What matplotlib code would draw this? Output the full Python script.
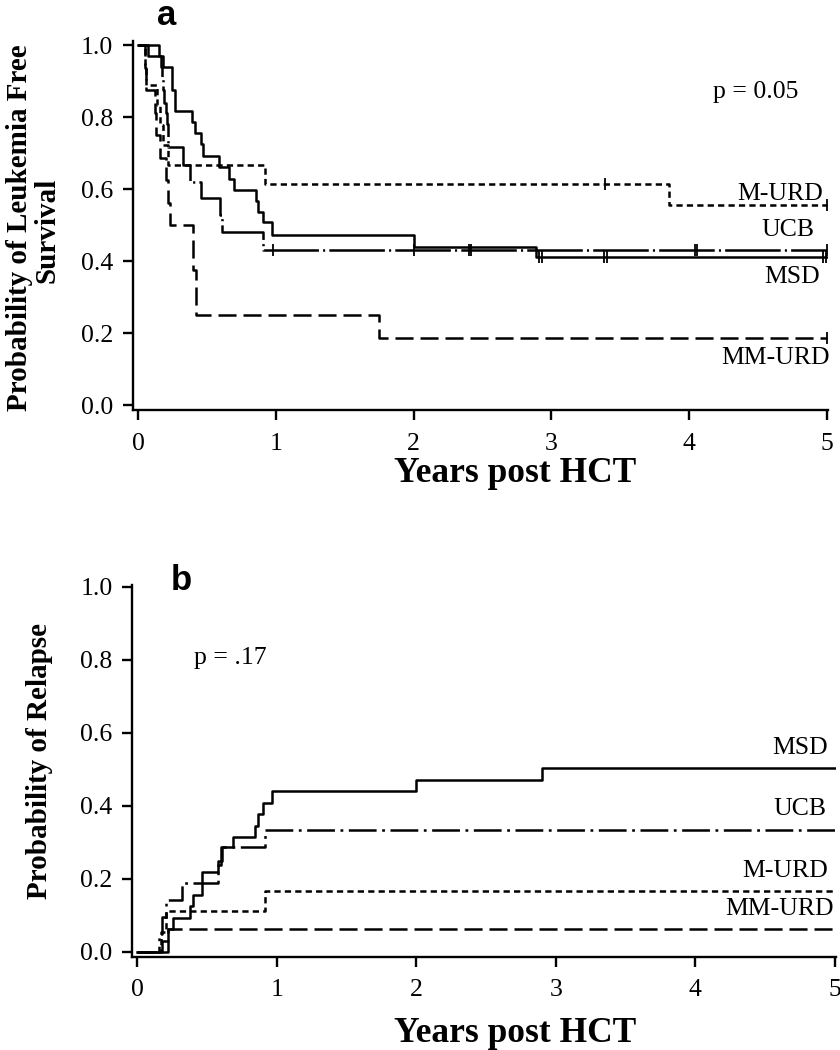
import matplotlib
matplotlib.use("Agg")
import matplotlib.pyplot as plt

plt.rcParams['font.family'] = ['Liberation Serif', 'DejaVu Serif']
plt.rcParams['lines.scale_dashes'] = False

# ---- panel a: leukemia free survival (step data) ----
msd_a_t = [0, 0.155, 0.18, 0.25, 0.27, 0.39, 0.41, 0.46, 0.47, 0.59, 0.66, 0.70,
           0.856, 0.87, 0.91, 0.97, 2.0, 2.89, 5.0]
msd_a_s = [1.0, 0.969, 0.94, 0.876, 0.818, 0.787, 0.756, 0.725, 0.693, 0.662, 0.627,
           0.597, 0.567, 0.537, 0.509, 0.472, 0.44, 0.41, 0.41]
ucb_a_t = [0, 0.07, 0.17, 0.175, 0.18, 0.19, 0.20, 0.21, 0.215, 0.22, 0.33, 0.377,
           0.46, 0.595, 0.61, 0.91, 5.0]
ucb_a_s = [1.0, 0.969, 0.94, 0.906, 0.875, 0.84, 0.81, 0.78, 0.75, 0.718, 0.667, 0.62,
           0.574, 0.528, 0.481, 0.432, 0.432]
murd_a_t = [0, 0.05, 0.06, 0.14, 0.16, 0.18, 0.22, 0.92, 3.85, 5.0]
murd_a_s = [1.0, 0.944, 0.889, 0.833, 0.778, 0.722, 0.667, 0.614, 0.556, 0.556]
mmurd_a_t = [0, 0.05, 0.06, 0.12, 0.13, 0.16, 0.20, 0.22, 0.23, 0.40, 0.42, 1.75, 5.0]
mmurd_a_s = [1.0, 0.9375, 0.875, 0.8125, 0.75, 0.6875, 0.625, 0.5625, 0.5, 0.375,
             0.25, 0.1875, 0.1875]

# censor marks
msd_a_cens = [2.91, 2.93, 3.38, 3.40, 4.97, 4.99]
ucb_a_cens = [0.98, 2.0, 2.40, 2.42, 4.04, 4.06, 5.0]
murd_a_cens = [3.39, 5.0]
mmurd_a_cens = [5.0]

# ---- panel b: relapse ----
msd_b_t = [0, 0.18, 0.22, 0.26, 0.38, 0.40, 0.463, 0.583, 0.607, 0.69, 0.845, 0.87,
           0.905, 0.965, 2.0, 2.9, 5.0]
msd_b_s = [0, 0.031, 0.063, 0.092, 0.125, 0.156, 0.22, 0.25, 0.288, 0.314, 0.346,
           0.378, 0.409, 0.442, 0.472, 0.504, 0.504]
ucb_b_t = [0, 0.16, 0.18, 0.21, 0.32, 0.58, 0.60, 0.915, 5.0]
ucb_b_s = [0, 0.048, 0.095, 0.142, 0.19, 0.238, 0.288, 0.335, 0.335]
murd_b_t = [0, 0.17, 0.21, 0.915, 5.0]
murd_b_s = [0, 0.056, 0.112, 0.166, 0.166]
mmurd_b_t = [0, 0.22, 5.0]
mmurd_b_s = [0, 0.0625, 0.0625]

x_ticks = [0, 1, 2, 3, 4, 5]
y_ticks = [0.0, 0.2, 0.4, 0.6, 0.8, 1.0]

LW = 1.8
sty_murd = (0, (4.5, 3))
sty_mmurd = (0, (13, 5))
sty_ucb_a = (0, (40, 3, 1.5, 3))
sty_ucb_b = (0, (20, 4, 2, 4))


def value_at(t, s, x):
    # survival value of a step curve at time x
    v = s[0]
    for ti, si in zip(t, s):
        if ti <= x:
            v = si
    return v


def style_axes(ax, xlim, ylim):
    ax.set_xlim(*xlim)
    ax.set_ylim(*ylim)
    for side in ['top', 'right']:
        ax.spines[side].set_visible(False)
    for side in ['left', 'bottom']:
        ax.spines[side].set_linewidth(1.7)
    ax.set_xticks(x_ticks)
    ax.set_yticks(y_ticks)
    ax.set_yticklabels(['%.1f' % v for v in y_ticks])
    ax.tick_params(direction='out', length=7, width=1.7, labelsize=18.5)
    ax.tick_params(axis='x', pad=9)
    ax.tick_params(axis='y', pad=7)


fig = plt.figure(figsize=(8.4, 10.5), dpi=100)

# panel a
ax1 = fig.add_axes([132.5 / 840, 0.6091, 695.9 / 840, 0.3514])
curves_a = [
    (msd_a_t, msd_a_s, '-', msd_a_cens),
    (ucb_a_t, ucb_a_s, sty_ucb_a, ucb_a_cens),
    (murd_a_t, murd_a_s, sty_murd, murd_a_cens),
    (mmurd_a_t, mmurd_a_s, sty_mmurd, mmurd_a_cens),
]
for t, s, ls, cens in curves_a:
    ax1.step(t, s, where='post', color='black', lw=LW, linestyle=ls)
    ax1.plot(cens, [value_at(t, s, c) for c in cens], linestyle='none',
             marker='|', markersize=9, markeredgewidth=1.3, color='black')
style_axes(ax1, (-0.04, 5.01), (-0.015, 1.01))
ax1.text(4.48, 0.87, 'p = 0.05', fontsize=18.5, ha='center', va='center')
ax1.text(4.97, 0.586, 'M-URD', fontsize=18.5, ha='right', va='center')
ax1.text(4.91, 0.486, 'UCB', fontsize=18.5, ha='right', va='center')
ax1.text(4.95, 0.357, 'MSD', fontsize=18.5, ha='right', va='center')
ax1.text(5.02, 0.131, 'MM-URD', fontsize=18.5, ha='right', va='center')

# panel b
ax2 = fig.add_axes([132 / 840, 93 / 1050, 704.4 / 840, 372 / 1050])
curves_b = [
    (msd_b_t, msd_b_s, '-'),
    (ucb_b_t, ucb_b_s, sty_ucb_b),
    (murd_b_t, murd_b_s, sty_murd),
    (mmurd_b_t, mmurd_b_s, sty_mmurd),
]
for t, s, ls in curves_b:
    ax2.step(t, s, where='post', color='black', lw=LW, linestyle=ls)
style_axes(ax2, (-0.036, 5.01), (-0.0137, 1.005))
ax2.text(0.67, 0.805, 'p = .17', fontsize=18.5, ha='center', va='center')
ax2.text(4.95, 0.56, 'MSD', fontsize=18.5, ha='right', va='center')
ax2.text(4.94, 0.392, 'UCB', fontsize=18.5, ha='right', va='center')
ax2.text(4.95, 0.222, 'M-URD', fontsize=18.5, ha='right', va='center')
ax2.text(4.99, 0.118, 'MM-URD', fontsize=18.5, ha='right', va='center')

# axis titles
def fx(px):
    return px / 840


def fy(py):
    return 1 - py / 1050


lab = dict(fontsize=21, fontweight='bold', ha='center', va='center')
fig.text(fx(20), fy(228), 'Probability of Leukemia Free', rotation=90, **lab)
fig.text(fx(47), fy(230), 'Survival', rotation=90, **lab)
fig.text(fx(40), fy(761), 'Probability of Relapse', rotation=90, **lab)
xl = dict(fontsize=25.5, fontweight='bold', ha='center', va='center')
fig.text(fx(515), fy(474), 'Years post HCT', **xl)
fig.text(fx(515), fy(1033), 'Years post HCT', **xl)

# panel letters
pl = dict(fontsize=25, fontweight='bold', family=['Liberation Sans', 'DejaVu Sans'],
          ha='center', va='baseline')
fig.text(fx(167), fy(25), 'a', **pl)
fig.text(fx(181), fy(590), 'b', **pl)

fig.savefig('out.png', dpi=100)
